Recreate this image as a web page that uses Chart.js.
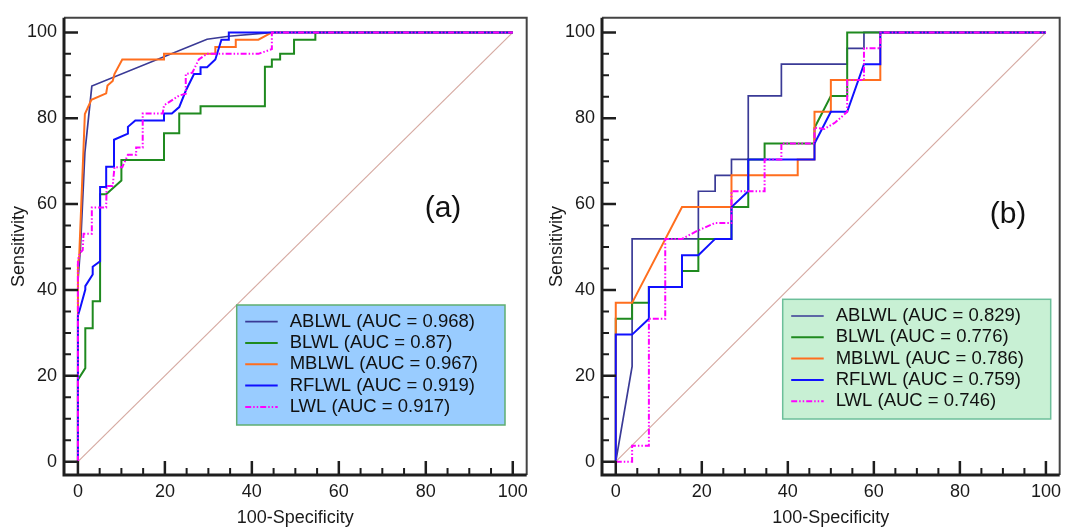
<!DOCTYPE html>
<html lang="en">
<head>
<meta charset="UTF-8">
<title>ROC curves</title>
<script src="https://cdn.jsdelivr.net/npm/chart.js"></script>
<style>
  body { margin: 0; background: #fff; }
  .wrap { position: relative; width: 1067px; height: 530px; }
  .panel { position: absolute; top: 0; height: 530px; }
  #panelA { left: 0; width: 534px; }
  #panelB { left: 538px; width: 529px; }
</style>
</head>
<body>
<div class="wrap">
  <div class="panel" id="panelA"><canvas id="chartA"></canvas></div>
  <div class="panel" id="panelB"><canvas id="chartB"></canvas></div>
</div>
<script>
// model names and AUC values shown in the legends
const modelNames = ['ABLWL', 'BLWL', 'MBLWL', 'RFLWL', 'LWL'];
const aucA = [0.968, 0.87, 0.967, 0.919, 0.917];
const aucB = [0.829, 0.776, 0.786, 0.759, 0.746];
const tickValues = [0, 20, 40, 60, 80, 100];

// panel (a): 100-specificity (x) and sensitivity (y)
const a_ablwl_x = [0, 0, 0.6, 1.6, 3.2, 29.7, 34.7, 45, 100];
const a_ablwl_y = [0, 42, 50, 72, 87.5, 98.4, 99.1, 100, 100];
const a_blwl_x = [0, 0, 1.7, 1.7, 3.4, 3.4, 5.1, 5.1, 6.5, 10, 10, 19.8, 19.8, 23.3, 23.3, 28.2, 28.2, 43, 43, 44.6, 44.6, 46.5, 46.5, 49.7, 49.7, 54.6, 54.6, 100];
const a_blwl_y = [0, 19.1, 21.8, 31.1, 31.1, 37.4, 37.4, 62.3, 62.3, 65.5, 70.3, 70.3, 76.5, 76.5, 81.1, 81.1, 82.8, 82.8, 92, 92, 93.7, 93.7, 95, 95, 98.3, 98.3, 100, 100];
const a_mblwl_x = [0, 0, 0.3, 1.6, 3.1, 6.5, 6.8, 8.0, 8.4, 10.2, 19.8, 19.8, 31.6, 31.6, 36.3, 36.3, 41.5, 44.6, 100];
const a_mblwl_y = [0, 46, 48, 81, 84.3, 85.8, 87.6, 88.7, 90.3, 93.7, 93.7, 95, 95, 96.6, 96.6, 98.3, 98.3, 100, 100];
const a_rflwl_x = [0, 0, 0.5, 1.7, 1.7, 3.4, 3.4, 5.1, 5.1, 6.5, 6.5, 8.3, 8.3, 11.5, 11.5, 13.2, 19.8, 19.8, 21.6, 23.3, 24.8, 26.7, 28.2, 28.2, 29.7, 31.6, 33.0, 34.7, 34.7, 100];
const a_rflwl_y = [0, 34, 35.7, 40.1, 40.9, 43.6, 45.4, 46.7, 64, 64, 68.7, 68.7, 75, 76.4, 78, 79.5, 79.5, 81.1, 81.1, 82.6, 86.4, 90.3, 90.3, 91.9, 91.9, 93.7, 98.3, 98.3, 100, 100];
const a_lwl_x = [0, 0, 0.5, 1.1, 1.3, 3.2, 3.2, 6.5, 6.6, 8.0, 8.4, 10.2, 11.5, 13.4, 13.4, 14.9, 14.9, 19.5, 19.8, 23.3, 24.8, 24.8, 26.3, 27.8, 29.7, 41.5, 44.6, 44.6, 100];
const a_lwl_y = [0, 47, 48.6, 49.3, 53.1, 53.1, 59.2, 59.2, 64.2, 64.2, 68.6, 68.6, 71.5, 71.5, 73.2, 73.2, 81.1, 81.1, 83, 85.3, 85.7, 90.3, 90.6, 93.7, 95, 95, 96.1, 100, 100];

// panel (b)
const b_ablwl_x = [0, 3.8, 3.8, 19.2, 19.2, 23.1, 23.1, 26.9, 26.9, 30.8, 30.8, 38.5, 38.5, 53.8, 53.8, 57.7, 57.7, 100];
const b_ablwl_y = [0, 22.2, 51.9, 51.9, 63, 63, 66.7, 66.7, 70.4, 70.4, 85.2, 85.2, 92.6, 92.6, 96.3, 96.3, 100, 100];
const b_blwl_x = [0, 0, 3.8, 3.8, 7.7, 7.7, 15.4, 15.4, 19.2, 19.2, 26.9, 26.9, 30.8, 30.8, 34.6, 34.6, 46.2, 46.2, 50, 53.8, 53.8, 100];
const b_blwl_y = [0, 33.3, 33.3, 37, 37, 40.7, 40.7, 44.4, 44.4, 51.9, 51.9, 59.3, 59.3, 70.4, 70.4, 74.1, 74.1, 77.8, 85.2, 85.2, 100, 100];
const b_mblwl_x = [0, 0, 3.8, 15.4, 26.9, 26.9, 42.3, 42.3, 46.2, 46.2, 50, 50, 61.5, 61.5, 100];
const b_mblwl_y = [0, 37, 37, 59.3, 59.3, 66.7, 66.7, 70.4, 70.4, 81.5, 81.5, 88.9, 88.9, 100, 100];
const b_rflwl_x = [0, 0, 3.8, 7.7, 7.7, 15.4, 15.4, 19.2, 23.1, 26.9, 26.9, 30.8, 30.8, 46.2, 46.2, 50, 53.8, 57.7, 61.5, 61.5, 100];
const b_rflwl_y = [0, 29.6, 29.6, 33.3, 40.7, 40.7, 48.1, 48.1, 51.9, 51.9, 59.3, 63, 70.4, 70.4, 74.1, 81.5, 81.5, 92.6, 92.6, 100, 100];
const b_lwl_x = [0, 3.8, 3.8, 7.7, 7.7, 11.5, 11.5, 15.4, 19.0, 23.1, 26.9, 26.9, 34.6, 34.6, 38.5, 38.5, 46.2, 46.2, 48.5, 51, 53.8, 53.8, 57.7, 57.7, 61.5, 61.5, 100];
const b_lwl_y = [0, 0, 3.7, 3.7, 33.3, 33.3, 51.9, 51.9, 53.8, 55.6, 55.6, 63, 63, 70.4, 70.4, 74.1, 74.1, 77.8, 77.5, 79, 81.5, 88.9, 88.9, 96.3, 96.3, 100, 100];

const refLine = [0, 100];

Chart.defaults.font.family = "'Liberation Sans', Arial, sans-serif";
Chart.defaults.color = '#1a1a1a';

const lineColors = ['#3a3a96', '#1f8a1f', '#ff6e1e', '#1010ff', '#ff00ff'];
const lineWidths = [1.7, 2, 2, 2, 2];
const lineDashes = [[], [], [], [], [6, 2, 1.5, 2, 1.5, 2]];
const lineOrder = [5, 4, 3, 2, 1];

function rocSets(xs, ys, auc) {
    const sets = modelNames.map((name, i) => ({
        label: name + ' (AUC = ' + auc[i] + ')',
        data: xs[i].map((v, k) => ({ x: v, y: ys[i][k] })),
        borderColor: lineColors[i],
        borderWidth: lineWidths[i],
        borderDash: lineDashes[i],
        pointRadius: 0,
        tension: 0,
        fill: false,
        order: lineOrder[i]
    }));
    sets.push({
        label: '',
        isRef: true,
        data: refLine.map(v => ({ x: v, y: v })),
        borderColor: '#d6aaa2',
        borderWidth: 1.2,
        pointRadius: 0,
        order: 9
    });
    return sets;
}

// frame, inward ticks, boxed legend and panel tag
const rocDecor = {
    id: 'rocDecor',
    afterDatasetsDraw(chart, args, opts) {
        const { ctx, chartArea: a, scales: { x, y } } = chart;
        ctx.save();
        ctx.strokeStyle = '#444';
        ctx.lineWidth = 2;
        ctx.beginPath();
        ctx.moveTo(a.left, a.top);
        ctx.lineTo(a.right, a.top);
        ctx.lineTo(a.right, a.bottom);
        ctx.stroke();
        ctx.strokeStyle = '#1e1e1e';
        ctx.lineWidth = 3;
        ctx.beginPath();
        ctx.moveTo(a.left, a.top);
        ctx.lineTo(a.left, a.bottom);
        ctx.lineTo(a.right, a.bottom);
        ctx.stroke();

        for (let v = 0; v <= 100; v += 5) {
            const major = v % 20 === 0;
            const len = major ? 14 : 7;
            ctx.lineWidth = major ? 2.5 : 2;
            const px = x.getPixelForValue(v);
            const py = y.getPixelForValue(v);
            ctx.beginPath();
            ctx.moveTo(px, a.bottom);
            ctx.lineTo(px, a.bottom - len);
            ctx.moveTo(a.left, py);
            ctx.lineTo(a.left + len, py);
            ctx.stroke();
        }

        // legend box
        const b = opts.box;
        ctx.fillStyle = opts.fill;
        ctx.strokeStyle = opts.border;
        ctx.lineWidth = 1.5;
        ctx.fillRect(b.left, b.top, b.right - b.left, b.bottom - b.top);
        ctx.strokeRect(b.left, b.top, b.right - b.left, b.bottom - b.top);
        ctx.font = "18.5px 'Liberation Sans', Arial, sans-serif";
        ctx.textBaseline = 'middle';
        ctx.textAlign = 'left';
        let row = 0;
        chart.data.datasets.forEach(ds => {
            if (ds.isRef) return;
            const ry = b.top + 16.7 + row * 21.3;
            ctx.strokeStyle = ds.borderColor;
            ctx.lineWidth = ds.borderWidth;
            ctx.setLineDash(ds.borderDash || []);
            ctx.beginPath();
            ctx.moveTo(b.left + 8.5, ry);
            ctx.lineTo(b.left + 41, ry);
            ctx.stroke();
            ctx.setLineDash([]);
            ctx.fillStyle = '#111';
            ctx.fillText(ds.label, b.left + 53, ry);
            row++;
        });

        ctx.font = "30px 'Liberation Sans', Arial, sans-serif";
        ctx.textAlign = 'center';
        ctx.fillStyle = '#111';
        ctx.fillText(opts.tag, opts.tagX, opts.tagY);
        ctx.restore();
    }
};

function makeChart(id, datasets, decor, padRight) {
    return new Chart(document.getElementById(id), {
        type: 'line',
        data: { datasets: datasets },
        options: {
            responsive: true,
            maintainAspectRatio: false,
            animation: false,
            layout: { padding: { top: 11, right: padRight, left: 0, bottom: 0 } },
            plugins: {
                legend: { display: false },
                tooltip: { enabled: false },
                rocDecor: decor
            },
            scales: {
                x: {
                    type: 'linear',
                    min: -3.2,
                    max: 103.2,
                    grid: { display: false, drawTicks: false },
                    border: { display: false },
                    afterBuildTicks: s => { s.ticks = tickValues.map(v => ({ value: v })); },
                    afterFit: s => { s.height = 55; },
                    ticks: { padding: 6, color: '#1a1a1a', font: { size: 18 }, maxRotation: 0, autoSkip: false },
                    title: { display: true, text: '100-Specificity', color: '#1a1a1a', font: { size: 18 }, padding: { top: 0, bottom: 1 } }
                },
                y: {
                    type: 'linear',
                    min: -3.1,
                    max: 103.4,
                    grid: { display: false, drawTicks: false },
                    border: { display: false },
                    afterBuildTicks: s => { s.ticks = tickValues.map(v => ({ value: v })); },
                    afterFit: s => { s.width = 64; },
                    ticks: { padding: 7, color: '#1a1a1a', font: { size: 18 }, autoSkip: false },
                    title: { display: true, text: 'Sensitivity', color: '#1a1a1a', font: { size: 18 }, padding: { top: 8, bottom: 0 } }
                }
            }
        },
        plugins: [rocDecor]
    });
}

makeChart('chartA',
    rocSets([a_ablwl_x, a_blwl_x, a_mblwl_x, a_rflwl_x, a_lwl_x],
            [a_ablwl_y, a_blwl_y, a_mblwl_y, a_rflwl_y, a_lwl_y], aucA),
    { box: { left: 236.7, top: 305, right: 505, bottom: 425 }, fill: '#99ccff', border: '#5fae72', tag: '(a)', tagX: 443, tagY: 209 },
    7);

makeChart('chartB',
    rocSets([b_ablwl_x, b_blwl_x, b_mblwl_x, b_rflwl_x, b_lwl_x],
            [b_ablwl_y, b_blwl_y, b_mblwl_y, b_rflwl_y, b_lwl_y], aucB),
    { box: { left: 244.7, top: 299.3, right: 512.7, bottom: 419 }, fill: '#c8f0d4', border: '#6cbf9a', tag: '(b)', tagX: 470, tagY: 215 },
    2);
</script>
</body>
</html>
